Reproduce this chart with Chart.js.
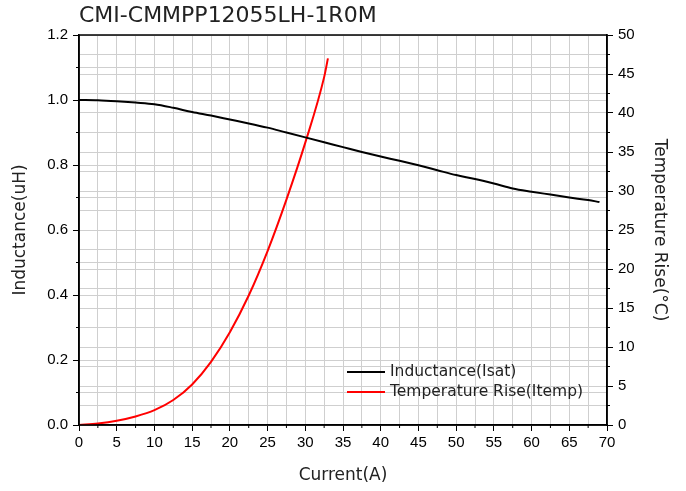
<!DOCTYPE html>
<html lang="en">
<head>
<meta charset="UTF-8">
<title>CMI-CMMPP12055LH-1R0M</title>
<script src="https://cdn.jsdelivr.net/npm/chart.js"></script>
<style>
  html, body { margin: 0; padding: 0; background: #fff; }
</style>
</head>
<body>
<canvas id="chart" width="686" height="491"></canvas>
<script>
// Inductance vs current (Isat)
const currentInd = [0, 2.5, 5, 7.5, 10, 12.5, 15, 17.5, 20, 22.5, 25, 27.5, 30, 32.5, 35, 37.5,
  40, 42.5, 45, 47.5, 50, 52.5, 55, 57.5, 60, 62.5, 65, 67.5, 69];
const inductance = [1.0, 0.999, 0.996, 0.992, 0.987, 0.976, 0.963, 0.952, 0.940, 0.928, 0.915, 0.900,
  0.885, 0.870, 0.855, 0.840, 0.826, 0.813, 0.799, 0.784, 0.769, 0.757, 0.743, 0.728, 0.718, 0.709,
  0.700, 0.692, 0.686];

// Temperature rise vs current (Itemp)
const currentTemp = [0, 2.5, 5, 7.5, 10, 12.5, 15, 17.5, 20, 22.5, 25, 27.5, 30, 32.5, 33];
const tempRise = [0, 0.2, 0.55, 1.1, 1.9, 3.2, 5.2, 8.1, 11.9, 16.6, 22.3, 28.9, 36.2, 44.6, 47.0];

const labelFont = "'Liberation Sans', Arial, sans-serif";
const titleFont = "'DejaVu Sans', sans-serif";

const isMult = (v, step) => Math.abs(v / step - Math.round(v / step)) < 1e-6;
const majorX = v => isMult(v, 5);
const majorL = v => isMult(v, 0.2);
const majorR = v => isMult(v, 5);

const toPoints = (xs, ys) => xs.map((x, i) => ({ x: x, y: ys[i] }));

// box around plot, short minor ticks, legend inside the plot
const decorations = {
  id: 'decorations',
  afterDraw(chart) {
    const { ctx, chartArea: a, scales } = chart;
    ctx.save();
    ctx.strokeStyle = '#000';
    ctx.lineWidth = 1.5;
    ctx.strokeRect(a.left, a.top, a.right - a.left, a.bottom - a.top);

    ctx.lineWidth = 1;
    ctx.beginPath();
    scales.x.ticks.forEach(t => {
      if (majorX(t.value)) return;
      const p = scales.x.getPixelForValue(t.value);
      ctx.moveTo(p, a.bottom); ctx.lineTo(p, a.bottom + 3);
    });
    scales.y.ticks.forEach(t => {
      if (majorL(t.value)) return;
      const p = scales.y.getPixelForValue(t.value);
      ctx.moveTo(a.left - 3, p); ctx.lineTo(a.left, p);
    });
    scales.y2.ticks.forEach(t => {
      if (majorR(t.value)) return;
      const p = scales.y2.getPixelForValue(t.value);
      ctx.moveTo(a.right, p); ctx.lineTo(a.right + 3, p);
    });
    ctx.stroke();

    ctx.font = '15.5px ' + titleFont;
    ctx.textBaseline = 'middle';
    ctx.fillStyle = '#222';
    chart.data.datasets.forEach((ds, i) => {
      const y = a.bottom - 53 + i * 20;
      const x = a.right - 260;
      ctx.strokeStyle = ds.borderColor;
      ctx.lineWidth = 2;
      ctx.beginPath();
      ctx.moveTo(x, y); ctx.lineTo(x + 38, y);
      ctx.stroke();
      ctx.fillText(ds.label, x + 43, y);
    });
    ctx.restore();
  }
};

new Chart(document.getElementById('chart'), {
  type: 'line',
  data: {
    datasets: [{
      label: 'Inductance(Isat)',
      data: toPoints(currentInd, inductance),
      borderColor: '#000',
      borderWidth: 2,
      pointRadius: 0,
      cubicInterpolationMode: 'monotone',
      yAxisID: 'y'
    }, {
      label: 'Temperature Rise(Itemp)',
      data: toPoints(currentTemp, tempRise),
      borderColor: '#ff0000',
      borderWidth: 2,
      pointRadius: 0,
      cubicInterpolationMode: 'monotone',
      yAxisID: 'y2'
    }]
  },
  options: {
    responsive: false,
    animation: false,
    layout: { padding: 0 },
    plugins: {
      legend: { display: false },
      tooltip: { enabled: false },
      title: {
        display: true,
        text: 'CMI-CMMPP12055LH-1R0M',
        align: 'start',
        fullSize: false,
        color: '#222',
        font: { family: titleFont, size: 22, weight: 'normal', lineHeight: 1.2 },
        padding: { top: 3, bottom: 5.6 }
      }
    },
    scales: {
      x: {
        type: 'linear',
        min: 0, max: 70,
        afterFit: s => { s.height = 66; },
        border: { color: '#000', width: 1.5 },
        grid: {
          color: '#cfcfcf',
          tickLength: 6,
          tickColor: c => majorX(c.tick.value) ? '#000' : 'rgba(0,0,0,0)'
        },
        ticks: {
          stepSize: 2.5,
          autoSkip: false,
          maxRotation: 0,
          padding: 3,
          color: '#000',
          font: { family: labelFont, size: 15 },
          callback: v => majorX(v) ? String(Math.round(v)) : ''
        },
        title: {
          display: true,
          text: 'Current(A)',
          color: '#222',
          font: { family: titleFont, size: 17, lineHeight: 1.2 },
          padding: { top: 7, bottom: 5 }
        }
      },
      y: {
        position: 'left',
        min: 0, max: 1.2,
        afterFit: s => { s.width = 79; },
        border: { color: '#000', width: 1.5 },
        grid: {
          color: '#cfcfcf',
          tickLength: 6,
          tickColor: c => majorL(c.tick.value) ? '#000' : 'rgba(0,0,0,0)'
        },
        ticks: {
          stepSize: 0.1,
          autoSkip: false,
          padding: 5,
          color: '#000',
          font: { family: labelFont, size: 15 },
          callback: v => majorL(v) ? v.toFixed(1) : ''
        },
        title: {
          display: true,
          text: 'Inductance(uH)',
          color: '#222',
          font: { family: titleFont, size: 17, lineHeight: 1.2 },
          padding: { top: 10, bottom: 0 }
        }
      },
      y2: {
        position: 'right',
        min: 0, max: 50,
        afterFit: s => { s.width = 79; },
        border: { color: '#000', width: 1.5 },
        grid: {
          color: '#cfcfcf',
          tickLength: 6,
          tickColor: c => majorR(c.tick.value) ? '#000' : 'rgba(0,0,0,0)'
        },
        ticks: {
          stepSize: 2.5,
          autoSkip: false,
          padding: 5,
          color: '#000',
          font: { family: labelFont, size: 15 },
          callback: v => majorR(v) ? String(Math.round(v)) : ''
        },
        title: {
          display: true,
          text: 'Temperature Rise(°C)',
          color: '#222',
          font: { family: titleFont, size: 17, lineHeight: 1.2 },
          padding: { top: 16, bottom: 0 }
        }
      }
    }
  },
  plugins: [decorations]
});
</script>
</body>
</html>
